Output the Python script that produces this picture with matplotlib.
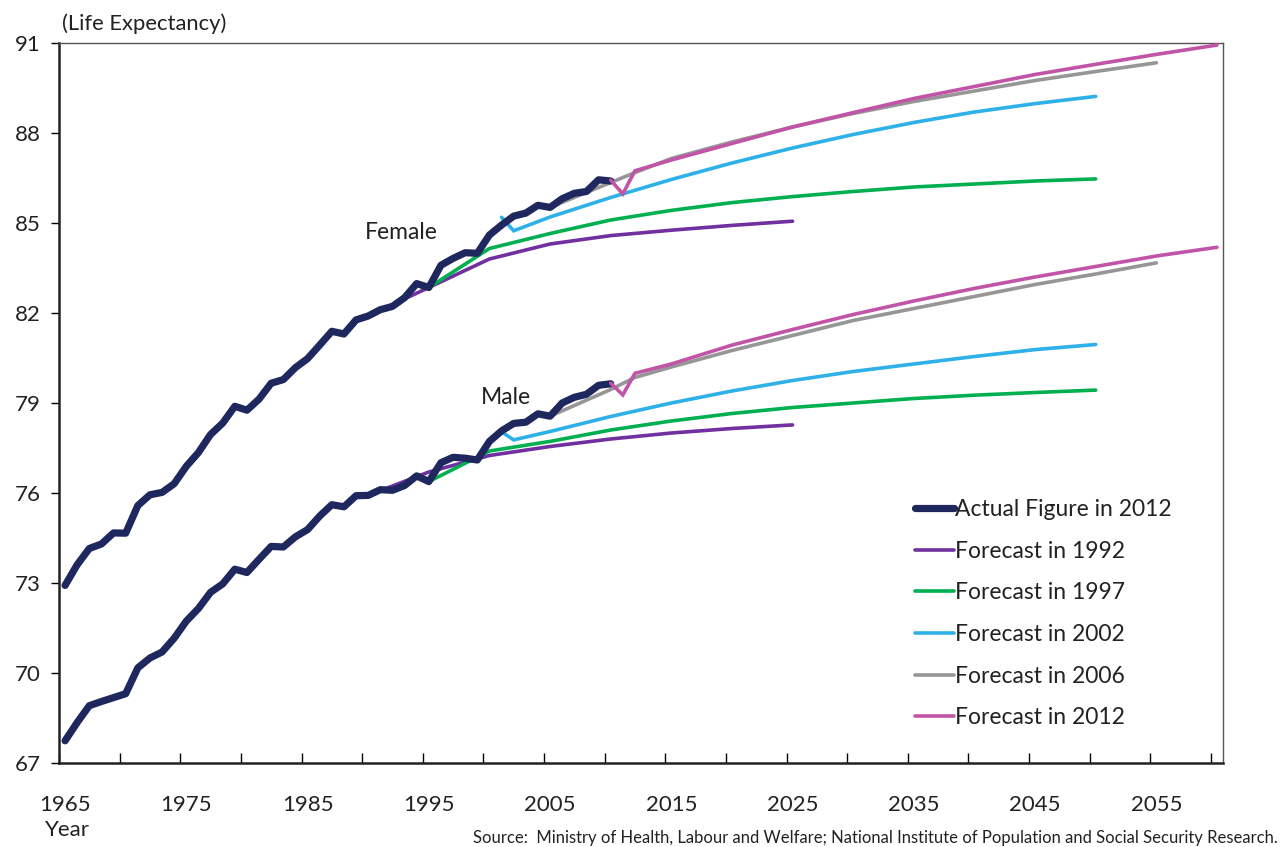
import matplotlib
matplotlib.use("Agg")
import matplotlib.pyplot as plt
import numpy as np

# actual life expectancy (navy, thick)
actual_years = list(range(1965, 2011))
female_actual = [
    72.92, 73.61, 74.15, 74.30, 74.67, 74.66, 75.58, 75.94, 76.02, 76.31,
    76.89, 77.35, 77.95, 78.33, 78.89, 78.76, 79.13, 79.66, 79.78, 80.18,
    80.48, 80.93, 81.39, 81.30, 81.77, 81.90, 82.11, 82.22, 82.51, 82.98,
    82.85, 83.59, 83.82, 84.01, 83.99, 84.60, 84.93, 85.23, 85.33, 85.59,
    85.52, 85.81, 85.99, 86.05, 86.44, 86.40,
]
male_actual = [
    67.74, 68.35, 68.91, 69.05, 69.18, 69.31, 70.17, 70.50, 70.70, 71.16,
    71.73, 72.15, 72.69, 72.97, 73.46, 73.35, 73.79, 74.22, 74.20, 74.54,
    74.78, 75.23, 75.61, 75.54, 75.91, 75.92, 76.11, 76.09, 76.25, 76.57,
    76.38, 77.01, 77.19, 77.16, 77.10, 77.72, 78.07, 78.32, 78.36, 78.64,
    78.56, 79.00, 79.19, 79.29, 79.59, 79.64,
]

# forecasts
f1992_years = [1990, 1995, 2000, 2005, 2010, 2015, 2020, 2025]
f1992_female = [81.90, 82.85, 83.80, 84.30, 84.58, 84.76, 84.92, 85.06]
f1992_male = [75.92, 76.70, 77.25, 77.55, 77.80, 78.00, 78.15, 78.27]

f1997_years = [1995, 2000, 2005, 2010, 2015, 2020, 2025, 2030, 2035, 2040, 2045, 2050]
f1997_female = [82.85, 84.15, 84.65, 85.10, 85.42, 85.68, 85.88, 86.05, 86.20, 86.30, 86.40, 86.47]
f1997_male = [76.38, 77.40, 77.72, 78.10, 78.40, 78.65, 78.85, 79.00, 79.15, 79.26, 79.35, 79.43]

f2002_years = [2001, 2002, 2005, 2010, 2015, 2020, 2025, 2030, 2035, 2040, 2045, 2050]
f2002_female = [85.19, 84.74, 85.20, 85.85, 86.45, 87.00, 87.50, 87.95, 88.35, 88.70, 88.98, 89.22]
f2002_male = [78.04, 77.77, 78.05, 78.55, 79.00, 79.40, 79.75, 80.05, 80.30, 80.55, 80.78, 80.95]

f2006_years = [2005, 2010, 2012, 2015, 2020, 2025, 2030, 2035, 2040, 2045, 2050, 2055]
f2006_female = [85.52, 86.35, 86.68, 87.15, 87.70, 88.20, 88.65, 89.05, 89.40, 89.75, 90.05, 90.34]
f2006_male = [78.56, 79.45, 79.85, 80.20, 80.75, 81.25, 81.75, 82.15, 82.55, 82.95, 83.30, 83.67]

f2012_years = [2010, 2011, 2012, 2015, 2020, 2025, 2030, 2035, 2040, 2045, 2050, 2055, 2060]
f2012_female = [86.43, 85.97, 86.74, 87.10, 87.65, 88.20, 88.68, 89.15, 89.55, 89.95, 90.29, 90.62, 90.93]
f2012_male = [79.66, 79.27, 79.99, 80.30, 80.93, 81.45, 81.95, 82.40, 82.82, 83.20, 83.55, 83.90, 84.19]

y_ticks = [67, 70, 73, 76, 79, 82, 85, 88, 91]
x_labels = list(range(1965, 2060, 10))

NAVY = "#1f285e"
forecasts = [
    ("Forecast in 1992", "#7030a0", f1992_years, f1992_female, f1992_male),
    ("Forecast in 1997", "#00b050", f1997_years, f1997_female, f1997_male),
    ("Forecast in 2002", "#2eb0e8", f2002_years, f2002_female, f2002_male),
    ("Forecast in 2006", "#969696", f2006_years, f2006_female, f2006_male),
    ("Forecast in 2012", "#c254a8", f2012_years, f2012_female, f2012_male),
]

plt.rcParams["font.family"] = ["Lato", "DejaVu Sans"]
TEXT = "#222222"

fig = plt.figure(figsize=(12.8, 8.47), dpi=100)
ax = fig.add_axes([59 / 1280, 1 - 763 / 847, (1223 - 59) / 1280, (763 - 43) / 847])

handles = []
h, = ax.plot(actual_years, female_actual, color=NAVY, lw=5.2, zorder=4,
             solid_capstyle="round", solid_joinstyle="round", label="Actual Figure in 2012")
ax.plot(actual_years, male_actual, color=NAVY, lw=5.2, zorder=4,
        solid_capstyle="round", solid_joinstyle="round")
handles.append(h)
for label, color, years, fem, mal in forecasts:
    z = 5 if label.endswith("2012") else 3
    h, = ax.plot(years, fem, color=color, lw=2.6, zorder=z, label=label,
                 solid_capstyle="round", solid_joinstyle="miter")
    ax.plot(years, mal, color=color, lw=2.6, zorder=z,
            solid_capstyle="round", solid_joinstyle="miter")
    handles.append(h)

ax.set_xlim(1964.5, 2060.5)
ax.set_ylim(67, 91)
ax.set_yticks(y_ticks)
ax.set_yticklabels([str(v) for v in y_ticks], fontsize=16, color=TEXT)
ax.tick_params(axis="y", direction="out", length=6, width=1, pad=7)

# category boundaries carry the tick marks, labels sit on the categories
ax.set_xticks(np.arange(1964.5, 2060.6, 5))
ax.set_xticklabels([])
ax.tick_params(axis="x", which="major", direction="in", length=7, width=1)
ax.set_xticks(x_labels, minor=True)
ax.set_xticklabels([str(v) for v in x_labels], minor=True, fontsize=16, color=TEXT)
ax.tick_params(axis="x", which="minor", length=0, pad=23)

for side in ["left", "bottom"]:
    ax.spines[side].set_linewidth(1.8)
    ax.spines[side].set_color("#222222")
for side in ["top", "right"]:
    ax.spines[side].set_linewidth(1.0)
    ax.spines[side].set_color("#555555")

ax.text(1992.7, 84.67, "Female", fontsize=16.5, color=TEXT, ha="center", va="center")
ax.text(2001.4, 79.17, "Male", fontsize=16.5, color=TEXT, ha="center", va="center")

fig.text(62 / 1280, 1 - 24 / 847, "(Life Expectancy)", fontsize=15.8, color=TEXT, ha="left", va="center")
fig.text(67 / 1280, 1 - 830 / 847, "Year", fontsize=16, color=TEXT, ha="center", va="center")
fig.text(1278 / 1280, 1 - 838 / 847,
         "Source:  Ministry of Health, Labour and Welfare; National Institute of Population and Social Security Research.",
         fontsize=12, color=TEXT, ha="right", va="center")

leg = ax.legend(handles=handles, loc="upper left", bbox_to_anchor=(906 / 1280, 1 - 490 / 847),
                bbox_transform=fig.transFigure, frameon=False, fontsize=16.5,
                handlelength=1.7, handletextpad=0.05, labelspacing=0.9, borderaxespad=0)
for t in leg.get_texts():
    t.set_color(TEXT)

fig.savefig("out.png", dpi=100)
